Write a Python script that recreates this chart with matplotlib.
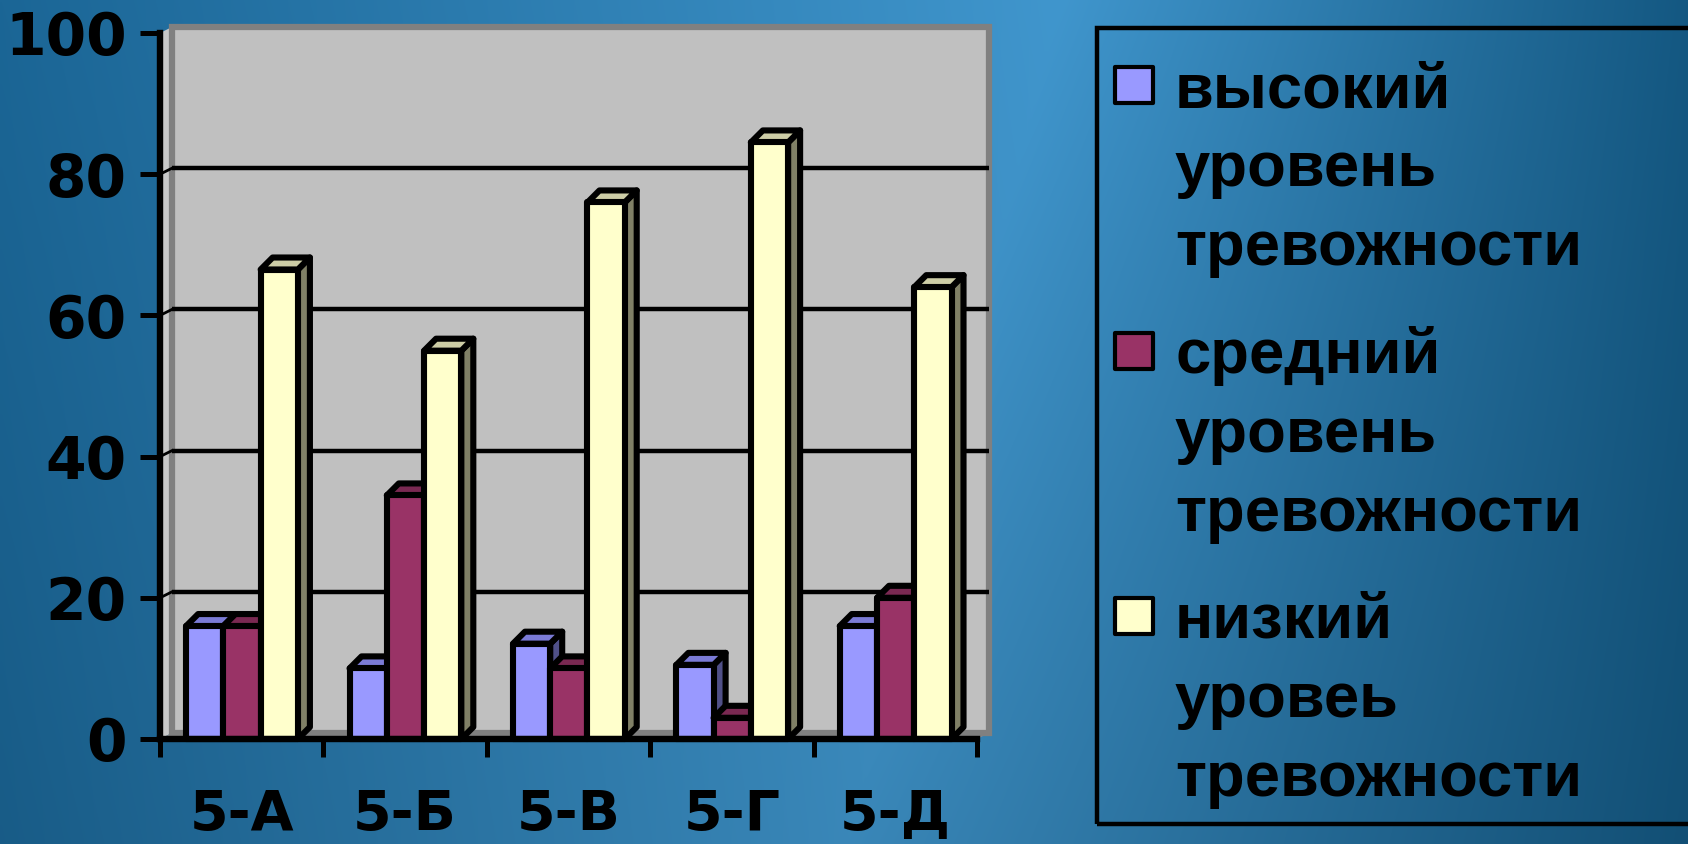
import numpy as np
import matplotlib
matplotlib.use('Agg')
import matplotlib.pyplot as plt
from matplotlib.patches import Rectangle, Polygon
from matplotlib import font_manager

# ---------------- data ----------------
categories = ['5-А', '5-Б', '5-В', '5-Г', '5-Д']
high = [16, 10, 13.5, 10.5, 16]
medium = [16, 34.5, 10, 3, 20]
low = [66.5, 55, 76, 84.5, 64]
series_labels = [['высокий', 'уровень', 'тревожности'],
                 ['средний', 'уровень', 'тревожности'],
                 ['низкий', 'уровеь', 'тревожности']]
yticks = [0, 20, 40, 60, 80, 100]

front_colors = ['#9999FF', '#993366', '#FFFFCC']
top_colors = ['#7B7BD6', '#7A2952', '#CDCDA6']
side_colors = ['#505088', '#4C1933', '#808066']

W, H = 1688, 844
fig = plt.figure(figsize=(W / 100, H / 100), dpi=100)

# ---------------- background gradient ----------------
bg = fig.add_axes([0, 0, 1, 1], zorder=-10)
bg.axis('off')
gx = np.linspace(0, W, 400)
gy = np.linspace(0, H, 200)
X, Y = np.meshgrid(gx, gy)
x0 = 1060 - 0.25 * (Y)
light = np.array([0x40, 0x96, 0xCD]) / 255
dark_l = np.array([0x1B, 0x66, 0x96]) / 255
dark_r = np.array([0x14, 0x58, 0x82]) / 255
tl = np.clip((x0 - X) / x0, 0, 1)
tr = np.clip((X - x0) / (W - x0), 0, 1)
img = np.empty(X.shape + (3,))
for c in range(3):
    img[..., c] = np.where(X < x0,
                           light[c] + (dark_l[c] - light[c]) * tl,
                           light[c] + (dark_r[c] - light[c]) * tr)
img *= (1 - 0.10 * (Y / H))[..., None]
bg.imshow(img, aspect='auto', extent=[0, 1, 0, 1], origin='upper', interpolation='bilinear')

# ---------------- main axes ----------------
L, R, T, B = 160, 977, 33, 739
ax = fig.add_axes([L / W, 1 - B / H, (R - L) / W, (B - T) / H])
ax.set_xlim(-0.5, 4.5)
ax.set_ylim(0, 100)
ax.patch.set_visible(False)

pxx = (R - L) / 5.0
pxy = (B - T) / 100.0
wdx, wdy = 12 / pxx, 6 / pxy      # wall depth
bdx, bdy = 12 / pxx, 12 / pxy     # bar depth

# walls
ax.add_patch(Polygon([(-0.5, 0), (-0.5 + wdx, wdy), (-0.5 + wdx, 100 + wdy), (-0.5, 100)],
                     closed=True, fc='#C8C8C8', ec='none', clip_on=False, zorder=0.4))
ax.add_patch(Polygon([(-0.5, 0), (4.5, 0), (4.5 + wdx, wdy), (-0.5 + wdx, wdy)],
                     closed=True, fc='#8C8C8C', ec='none', clip_on=False, zorder=0.45))
ax.add_patch(Rectangle((-0.5 + wdx, wdy), 5, 100, fc='#C0C0C0', ec='#808080', lw=4.5,
                       clip_on=False, zorder=0.5, joinstyle='miter'))
for v in yticks[1:-1]:
    ax.plot([-0.5 + wdx, 4.5 + wdx], [v + wdy, v + wdy], color='black', lw=3.2,
            clip_on=False, zorder=0.6, solid_capstyle='butt')
    ax.plot([-0.5, -0.5 + wdx], [v, v + wdy], color='black', lw=2.0, clip_on=False, zorder=0.6)

# bars (front faces via ax.bar, top/side faces as polygons)
off, w = 0.16, 0.228
lw_bar = 4.4
for i, vals in enumerate([high, medium, low]):
    xs = np.arange(len(categories)) - 0.5 + off + i * w
    z = 3 + i
    for x, v in zip(xs, vals):
        ax.add_patch(Polygon([(x + w, 0), (x + w + bdx, bdy), (x + w + bdx, v + bdy), (x + w, v)],
                             closed=True, fc=side_colors[i], ec='black', lw=lw_bar,
                             joinstyle='round', zorder=z, clip_on=False))
        ax.add_patch(Polygon([(x, v), (x + w, v), (x + w + bdx, v + bdy), (x + bdx, v + bdy)],
                             closed=True, fc=top_colors[i], ec='black', lw=lw_bar,
                             joinstyle='round', zorder=z + 0.1, clip_on=False))
    ax.bar(xs, vals, width=w, align='edge', color=front_colors[i], edgecolor='black',
           linewidth=lw_bar, joinstyle='round', zorder=z + 0.2, clip_on=False)

# spines & ticks
for s in ['top', 'right']:
    ax.spines[s].set_visible(False)
for s in ['left', 'bottom']:
    ax.spines[s].set_linewidth(4.6)
    ax.spines[s].set_color('black')
    ax.spines[s].set_zorder(10)
    ax.spines[s].set_capstyle('projecting')

ytick_font = dict(family='DejaVu Sans', weight='bold', size=42)
xtick_font = dict(family='DejaVu Sans', weight='bold', size=40)
ax.set_yticks(yticks)
ax.set_yticklabels([str(t) for t in yticks], fontdict=ytick_font)
ax.tick_params(axis='y', length=14.4, width=3.6, pad=9.5, direction='out', color='black')
ax.set_xticks(range(len(categories)))
ax.set_xticklabels(categories, fontdict=xtick_font)
ax.set_xticks(np.arange(-0.5, len(categories), 1), minor=True)
ax.tick_params(axis='x', which='major', length=0, pad=35)
ax.tick_params(axis='x', which='minor', length=13, width=3.6, direction='out', color='black')

# ---------------- legend (manual) ----------------
names = {f.name for f in font_manager.fontManager.ttflist}
leg_family = 'Liberation Sans Narrow' if 'Liberation Sans Narrow' in names else 'Liberation Sans'

fig.add_artist(Rectangle((1097 / W, 1 - 824 / H), (1700 - 1097) / W, (824 - 28) / H,
                         transform=fig.transFigure, fc='none', ec='black', lw=3.2, clip_on=False))
first_base = [107, 373, 638]
line_step = 79
texts = []
for g, lines in enumerate(series_labels):
    yc = first_base[g] - 22
    fig.add_artist(Rectangle((1115 / W, 1 - (yc + 18) / H), 38 / W, 36 / H,
                             transform=fig.transFigure, fc=front_colors[g], ec='black',
                             lw=3.0, joinstyle='round'))
    for j, s in enumerate(lines):
        t = fig.text(1175 / W, 1 - (first_base[g] + j * line_step) / H, s,
                     ha='left', va='baseline', fontsize=45, color='black',
                     family=leg_family, weight='bold')
        texts.append(t)

fig.canvas.draw()
r = fig.canvas.get_renderer()
wt = texts[2].get_window_extent(r).width
scale = 408.0 / wt
for t in texts:
    t.set_fontsize(45 * scale)

fig.savefig('out.png', dpi=100)
